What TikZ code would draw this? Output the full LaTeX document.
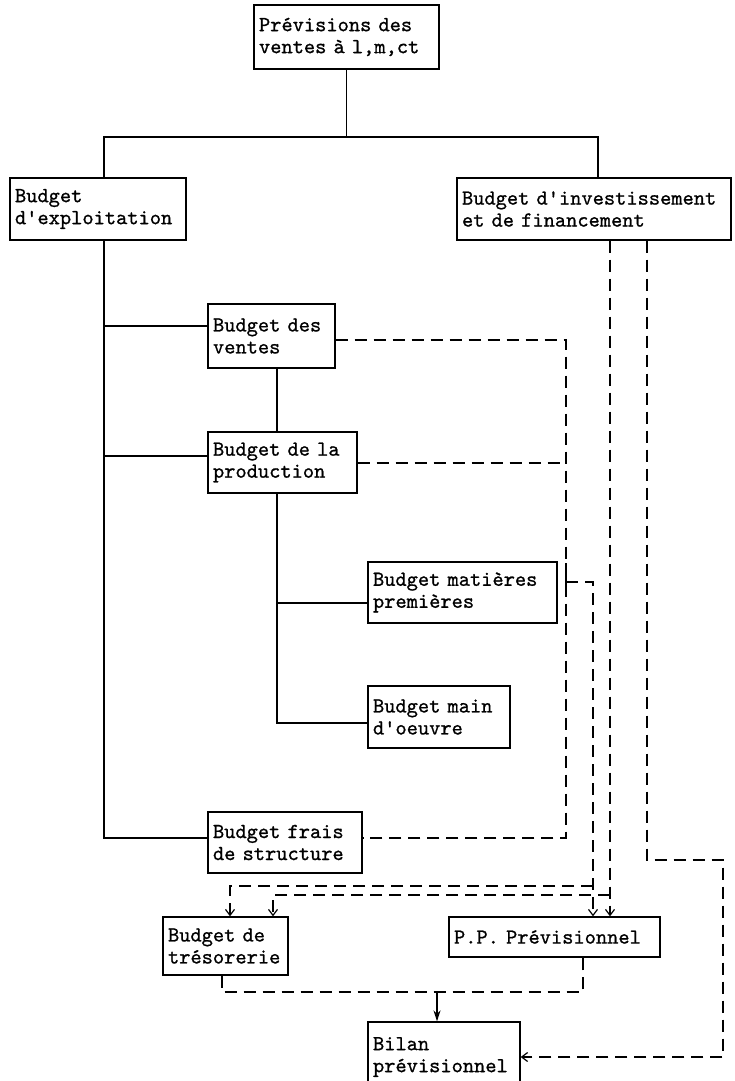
\documentclass[tikz,border=0pt]{standalone}
\usepackage{fontspec}
\newfontfamily\boxfont{lmmono10-regular.otf}[FakeBold=0.9]
\usetikzlibrary{arrows.meta}

\tikzset{
  box/.style={draw, line width=1.3pt, inner xsep=5pt, inner ysep=0pt,
    align=left, font=\boxfont\fontsize{21.4}{22}\selectfont},
  link/.style={line width=1.2pt},
  dsh/.style={line width=1.2pt, dash pattern=on 12pt off 7pt},
  barb/.style={-{Straight Barb[length=6pt,width=9pt]}},
  solidtip/.style={-{Stealth[length=11pt,width=7pt]}}
}

\begin{document}
\begin{tikzpicture}[x=1pt,y=-1pt]
\fill[white] (0,0) rectangle (735,1081);
\clip (0,0) rectangle (735,1081);

% boxes
\node[box, text width=175pt, minimum height=64pt] (prev)   at (346.5,37)   {Prévisions des\\ventes à l,m,ct};
\node[box, text width=166pt, minimum height=62pt] (expl)   at (98,209)     {Budget\\d'exploitation};
\node[box, text width=264pt, minimum height=62pt] (inv)    at (594,209)    {Budget d'investissement\\et de financement};
\node[box, text width=117pt, minimum height=64pt] (ventes) at (271.5,336)  {Budget des\\ventes};
\node[box, text width=139pt, minimum height=61pt] (prod)   at (282.5,462.5){Budget de la\\production};
\node[box, text width=179pt, minimum height=61pt] (mat)    at (462.5,592.5){Budget matières\\premières};
\node[box, text width=132pt, minimum height=62pt] (mo)     at (439,717)    {Budget main\\d'oeuvre};
\node[box, text width=144pt, minimum height=61pt] (frais)  at (285,842.5)  {Budget frais\\de structure};
\node[box, text width=115pt, minimum height=58pt] (treso)  at (225.5,946)  {Budget de\\trésorerie};
\node[box, text width=201pt, minimum height=40pt] (pp)     at (554.5,937)  {P.P. Prévisionnel};
\node[box, text width=142pt, minimum height=70pt] (bilan)  at (444,1057)   {Bilan\\prévisionnel};

% solid tree
\coordinate (tA) at (104,137);
\coordinate (tB) at (598,137);
\draw[link] (prev.south) -- (prev.south |- tA);
\draw[link] (tA |- expl.north) -- (tA) -- (tB) -- (tB |- inv.north);

\coordinate (sp) at (104,838);
\draw[link] (sp |- expl.south) -- (sp) -- (frais.west |- sp);
\draw[link] (sp |- 0,326) -- (ventes.west |- 0,326);
\draw[link] (sp |- 0,456) -- (prod.west |- 0,456);

\coordinate (ms) at (277,723);
\draw[link] (ms |- ventes.south) -- (ms |- prod.north);
\draw[link] (ms |- prod.south) -- (ms) -- (mo.west |- ms);
\draw[link] (ms |- 0,603) -- (mat.west |- 0,603);

% dashed flows
\coordinate (bA) at (566,340);
\coordinate (bB) at (566,838);
\draw[dsh] (ventes.east |- bA) -- (bA) -- (bB) -- (frais.east |- bB);
\draw[dsh] (prod.east |- 0,463) -- (bA |- 0,463);

\coordinate (mA) at (566,582);
\coordinate (mB) at (593,886);
\draw[link] (566,563) -- (566,594);
\draw[dsh, barb] (mA) -| (pp.north -| mB);
\draw[dsh, barb] (mB) -| (treso.north -| 230,0);

\coordinate (iA) at (610,895);
\draw[dsh, barb] (inv.south -| iA) -- (pp.north -| iA);
\draw[dsh, barb] (iA) -| (treso.north -| 273,0);

\coordinate (iB) at (647,860);
\coordinate (iC) at (723,1057);
\draw[dsh, barb] (inv.south -| iB) -- (iB) -| (iC) -- (bilan.east |- iC);

\coordinate (rA) at (222,992);
\coordinate (rB) at (583,992);
\draw[dsh] (treso.south -| rA) -- (rA) -- (rB) -- (pp.south -| rB);
\coordinate (bj) at (437,992);
\draw[line width=1.5pt, solidtip] (bj) -- (bilan.north -| bj);
\end{tikzpicture}
\end{document}
